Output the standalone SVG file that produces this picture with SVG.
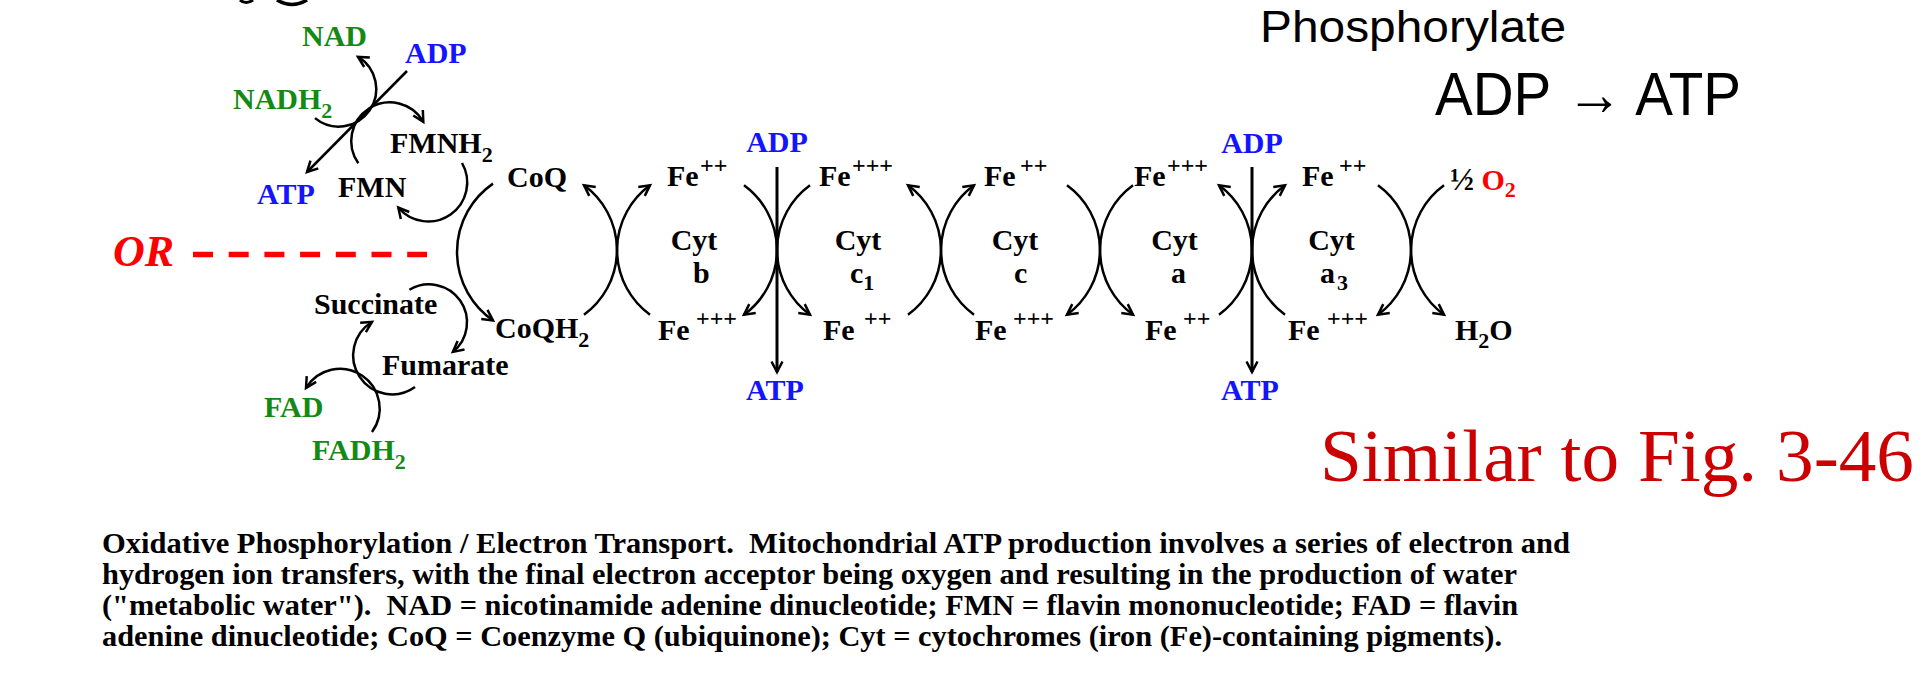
<svg xmlns="http://www.w3.org/2000/svg" width="1931" height="683" viewBox="0 0 1931 683">
<style>
.l{font-family:"Liberation Serif","Times New Roman",serif;font-weight:bold;font-size:30px;fill:#000}
.g{fill:#138a13}
.b{fill:#1414ff}
.r{fill:#ff0000}
.sp{font-size:24px}
.sb{font-size:22px}
.m{text-anchor:middle}
.c{fill:none;stroke:#000;stroke-width:2.5}
.hw{font-family:"Liberation Sans",Arial,sans-serif;fill:#000}
.cap{font-family:"Liberation Serif","Times New Roman",serif;font-weight:bold;font-size:30px;fill:#000}
</style>
<defs>
<marker id="ah" markerUnits="userSpaceOnUse" markerWidth="16" markerHeight="16" viewBox="0 0 16 16" refX="13" refY="8" orient="auto" style="overflow:visible"><path d="M2.5,2.5 L13,8 L2.5,13.5" fill="none" stroke="#000" stroke-width="2.5"/></marker>
</defs>
<rect width="1931" height="683" fill="#fff"/>

<g id="connectors">
<path class="c" d="M315,118.1 A37.5,37.5 0 1 0 358,56.9" marker-end="url(#ah)"/>
<path class="c" d="M358.3,163.3 A38.6,38.6 0 1 1 423.3,121.8" marker-end="url(#ah)"/>
<path class="c" d="M407,71 L307,172" marker-end="url(#ah)"/>
<path class="c" d="M462,163 A39,39 0 0 1 398.3,207.5" marker-end="url(#ah)"/>
<path class="c" d="M493,183.6 A83,83 0 0 0 493,320.4" marker-end="url(#ah)"/>
<path class="c" d="M409.4,289.8 A38,38 0 0 1 452.9,351.9" marker-end="url(#ah)"/>
<path class="c" d="M372,432 A39.7,39.7 0 1 0 306,388" marker-end="url(#ah)"/>
<path class="c" d="M415,387 A39,39 0 1 1 372,322" marker-end="url(#ah)"/>
<path class="c" d="M584,314.7 A80,80 0 0 0 584,185.3" marker-end="url(#ah)"/>
<path class="c" d="M650,314.7 A80,80 0 0 1 650,185.3" marker-end="url(#ah)"/>
<path class="c" d="M744,185.3 A80,80 0 0 1 744,314.7" marker-end="url(#ah)"/>
<path class="c" d="M810,185.3 A80,80 0 0 0 810,314.7" marker-end="url(#ah)"/>
<path class="c" d="M908,314.7 A80,80 0 0 0 908,185.3" marker-end="url(#ah)"/>
<path class="c" d="M974,314.7 A80,80 0 0 1 974,185.3" marker-end="url(#ah)"/>
<path class="c" d="M1067,185.3 A80,80 0 0 1 1067,314.7" marker-end="url(#ah)"/>
<path class="c" d="M1133,185.3 A80,80 0 0 0 1133,314.7" marker-end="url(#ah)"/>
<path class="c" d="M1219,314.7 A80,80 0 0 0 1219,185.3" marker-end="url(#ah)"/>
<path class="c" d="M1285,314.7 A80,80 0 0 1 1285,185.3" marker-end="url(#ah)"/>
<path class="c" d="M1378,185.3 A80,80 0 0 1 1378,314.7" marker-end="url(#ah)"/>
<path class="c" d="M1444,185.3 A80,80 0 0 0 1444,314.7" marker-end="url(#ah)"/>
<path class="c" style="stroke-width:3" d="M777,167 L777,372" marker-end="url(#ah)"/>
<path class="c" style="stroke-width:3" d="M1252,167 L1252,372" marker-end="url(#ah)"/>
<path d="M193,254.5 L427,254.5" fill="none" stroke="#ff0000" stroke-width="5.5" stroke-dasharray="20 15.7"/>
</g>

<g id="marks">
<path d="M240,0 Q246,5 253,0" fill="none" stroke="#000" stroke-width="3"/>
<path d="M277,0 Q292,9 307,0" fill="none" stroke="#000" stroke-width="3.5"/>
</g>

<g id="n-nad"><text class="l g" x="302" y="46">NAD</text></g>
<g id="n-adp0"><text class="l b" x="405" y="63">ADP</text></g>
<g id="n-nadh2"><text class="l g" x="233" y="109">NADH<tspan class="sb" dy="9">2</tspan></text></g>
<g id="n-fmnh2"><text class="l" x="390" y="153">FMNH<tspan class="sb" dy="9">2</tspan></text></g>
<g id="n-atp0"><text class="l b" x="257" y="204">ATP</text></g>
<g id="n-fmn"><text class="l" x="338" y="197">FMN</text></g>
<g id="n-coq"><text class="l" x="507" y="187">CoQ</text></g>
<g id="n-coqh2"><text class="l" x="495" y="338">CoQH<tspan class="sb" dy="9">2</tspan></text></g>
<g id="n-or"><text x="113" y="266" style="font-family:'Liberation Serif','Times New Roman',serif;font-weight:bold;font-style:italic;font-size:44px;fill:#ff0000">OR</text></g>
<g id="n-succ"><text class="l" x="314" y="314">Succinate</text></g>
<g id="n-fum"><text class="l" x="382" y="375">Fumarate</text></g>
<g id="n-fad"><text class="l g" x="264" y="417">FAD</text></g>
<g id="n-fadh2"><text class="l g" x="312" y="460">FADH<tspan class="sb" dy="9">2</tspan></text></g>

<g id="n-adp1"><text class="l b m" x="777" y="152">ADP</text></g>
<g id="n-atp1"><text class="l b m" x="775" y="400">ATP</text></g>
<g id="n-adp2"><text class="l b m" x="1252" y="153">ADP</text></g>
<g id="n-atp2"><text class="l b m" x="1250" y="400">ATP</text></g>

<g id="n-fe-t1"><text class="l" x="667" y="186">Fe</text><text class="l sp" x="700" y="173">++</text></g>
<g id="n-fe-t2"><text class="l" x="819" y="186">Fe</text><text class="l sp" x="852" y="173">+++</text></g>
<g id="n-fe-t3"><text class="l" x="984" y="186">Fe</text><text class="l sp" x="1020" y="173">++</text></g>
<g id="n-fe-t4"><text class="l" x="1134" y="186">Fe</text><text class="l sp" x="1167" y="173">+++</text></g>
<g id="n-fe-t5"><text class="l" x="1302" y="186">Fe</text><text class="l sp" x="1339" y="173">++</text></g>

<g id="n-fe-b1"><text class="l" x="658" y="340">Fe</text><text class="l sp" x="696" y="326">+++</text></g>
<g id="n-fe-b2"><text class="l" x="823" y="340">Fe</text><text class="l sp" x="864" y="326">++</text></g>
<g id="n-fe-b3"><text class="l" x="975" y="340">Fe</text><text class="l sp" x="1013" y="326">+++</text></g>
<g id="n-fe-b4"><text class="l" x="1145" y="340">Fe</text><text class="l sp" x="1183" y="326">++</text></g>
<g id="n-fe-b5"><text class="l" x="1288" y="340">Fe</text><text class="l sp" x="1327" y="326">+++</text></g>

<g id="n-cyt-b"><text class="l m" x="694" y="250">Cyt</text><text class="l" x="693" y="283">b</text></g>
<g id="n-cyt-c1"><text class="l m" x="858" y="250">Cyt</text><text class="l" x="850" y="283">c<tspan class="sb" dy="7">1</tspan></text></g>
<g id="n-cyt-c"><text class="l m" x="1015" y="250">Cyt</text><text class="l" x="1014" y="283">c</text></g>
<g id="n-cyt-a"><text class="l m" x="1174.5" y="250">Cyt</text><text class="l" x="1171" y="283">a</text></g>
<g id="n-cyt-a3"><text class="l m" x="1331.5" y="250">Cyt</text><text class="l" x="1320" y="283">a<tspan class="sb" dy="7" dx="2">3</tspan></text></g>

<g id="n-o2"><text class="l" x="1450" y="190"><tspan style="font-size:32px">½</tspan> <tspan class="r">O</tspan><tspan class="r sb" dy="7">2</tspan></text></g>
<g id="n-h2o"><text class="l" x="1455" y="340">H<tspan class="sb" dy="8">2</tspan><tspan dy="-8">O</tspan></text></g>

<g id="hand">
<text class="hw" x="1260" y="42" font-size="44" textLength="306" lengthAdjust="spacingAndGlyphs">Phosphorylate</text>
<text class="hw" x="1435" y="115" font-size="62" textLength="306" lengthAdjust="spacingAndGlyphs">ADP → ATP</text>
</g>

<g id="similar"><text x="1320" y="481" style="font-family:'Liberation Serif','Times New Roman',serif;font-size:75px;fill:#cc0000" textLength="594" lengthAdjust="spacingAndGlyphs">Similar to Fig. 3-46</text></g>

<g id="caption">
<text class="cap" x="102" y="553" textLength="1468" lengthAdjust="spacingAndGlyphs" xml:space="preserve">Oxidative Phosphorylation / Electron Transport.  Mitochondrial ATP production involves a series of electron and</text>
<text class="cap" x="102" y="584" textLength="1415" lengthAdjust="spacingAndGlyphs">hydrogen ion transfers, with the final electron acceptor being oxygen and resulting in the production of water</text>
<text class="cap" x="102" y="615" textLength="1416" lengthAdjust="spacingAndGlyphs" xml:space="preserve">("metabolic water").  NAD = nicotinamide adenine dinucleotide; FMN = flavin mononucleotide; FAD = flavin</text>
<text class="cap" x="102" y="646" textLength="1400" lengthAdjust="spacingAndGlyphs">adenine dinucleotide; CoQ = Coenzyme Q (ubiquinone); Cyt = cytochromes (iron (Fe)-containing pigments).</text>
</g>
</svg>
